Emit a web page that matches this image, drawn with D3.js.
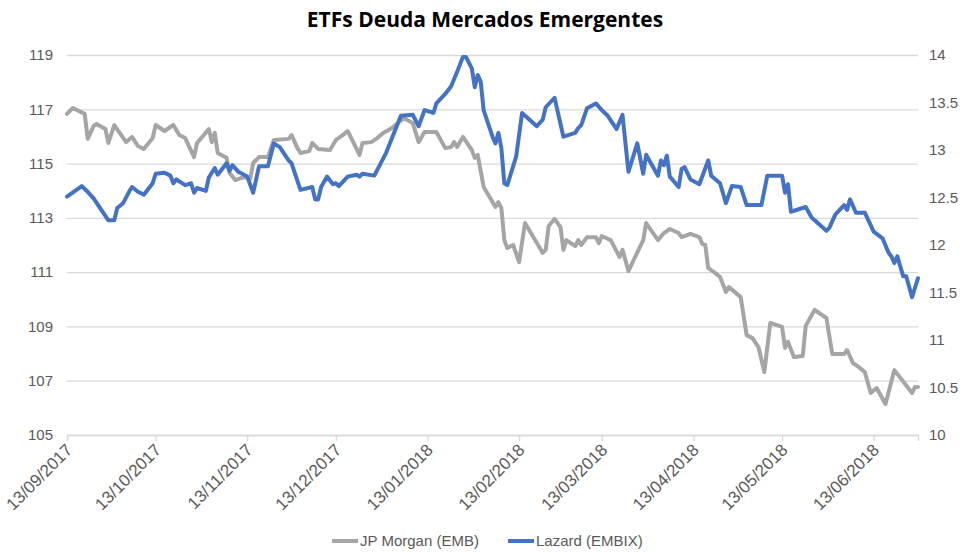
<!DOCTYPE html>
<html>
<head>
<meta charset="utf-8">
<script src="https://cdn.jsdelivr.net/npm/d3@7"></script>
<style>
  html, body { margin: 0; padding: 0; background: #fff; }
  svg { display: block; font-family: "Liberation Sans Narrow", "Liberation Sans", Arial, sans-serif; }
</style>
</head>
<body>
<div id="chart"></div>
<script>
// JP Morgan (EMB) — left axis
const embDates = [
  "13/09/2017","15/09/2017","19/09/2017","20/09/2017","22/09/2017","23/09/2017","26/09/2017","27/09/2017","29/09/2017",
  "03/10/2017","05/10/2017","07/10/2017","09/10/2017","12/10/2017","13/10/2017","16/10/2017","19/10/2017","21/10/2017","23/10/2017","26/10/2017","27/10/2017","31/10/2017",
  "01/11/2017","02/11/2017","03/11/2017","06/11/2017","07/11/2017","09/11/2017","12/11/2017","14/11/2017","15/11/2017","17/11/2017","20/11/2017","22/11/2017","27/11/2017","28/11/2017","30/11/2017",
  "01/12/2017","04/12/2017","05/12/2017","07/12/2017","11/12/2017","13/12/2017","15/12/2017","17/12/2017","19/12/2017","21/12/2017","22/12/2017","25/12/2017","27/12/2017","29/12/2017",
  "01/01/2018","05/01/2018","08/01/2018","10/01/2018","12/01/2018","16/01/2018","19/01/2018","21/01/2018","22/01/2018","23/01/2018","25/01/2018","28/01/2018","29/01/2018","30/01/2018",
  "01/02/2018","04/02/2018","05/02/2018","06/02/2018","07/02/2018","08/02/2018","09/02/2018","11/02/2018","13/02/2018","15/02/2018","19/02/2018","21/02/2018","22/02/2018","23/02/2018","25/02/2018","27/02/2018","28/02/2018",
  "01/03/2018","04/03/2018","05/03/2018","06/03/2018","08/03/2018","11/03/2018","12/03/2018","13/03/2018","16/03/2018","19/03/2018","20/03/2018","22/03/2018","27/03/2018","28/03/2018",
  "01/04/2018","03/04/2018","05/04/2018","08/04/2018","09/04/2018","12/04/2018","15/04/2018","16/04/2018","17/04/2018","18/04/2018","20/04/2018","22/04/2018","24/04/2018","25/04/2018","29/04/2018",
  "01/05/2018","03/05/2018","05/05/2018","07/05/2018","09/05/2018","13/05/2018","14/05/2018","15/05/2018","17/05/2018","20/05/2018","21/05/2018","24/05/2018","28/05/2018","30/05/2018",
  "03/06/2018","04/06/2018","06/06/2018","08/06/2018","10/06/2018","12/06/2018","14/06/2018","17/06/2018","20/06/2018","26/06/2018","27/06/2018","28/06/2018"
];
const embValues = [
  116.83,117.05,116.83,115.91,116.38,116.46,116.27,115.76,116.42,
  115.79,115.98,115.65,115.54,115.94,116.42,116.2,116.42,116.05,115.94,115.24,115.76,116.27,
  115.79,116.13,115.39,115.21,114.65,114.39,114.51,114.43,115.02,115.24,115.24,115.87,115.91,116.05,115.57,
  115.39,115.46,115.76,115.54,115.5,115.87,116.02,116.2,115.76,115.32,115.76,115.79,115.94,116.13,
  116.31,116.68,116.49,115.79,116.16,116.16,115.57,115.61,115.79,115.61,115.98,115.5,115.21,115.32,
  114.14,113.58,113.4,113.58,113.36,112.18,111.89,112.0,111.37,112.81,112.07,111.71,111.82,112.7,112.96,112.66,111.82,
  112.18,111.96,112.18,112.0,112.29,112.29,112.07,112.33,112.18,111.56,111.82,111.04,112.18,112.81,
  112.18,112.44,112.59,112.44,112.29,112.41,112.29,112.04,112.0,111.15,111.0,110.82,110.27,110.45,110.08,
  108.68,108.57,108.24,107.32,109.13,108.98,108.21,108.43,107.87,107.91,109.02,109.61,109.31,107.98,
  107.98,108.13,107.65,107.5,107.32,106.55,106.73,106.14,107.39,106.55,106.77,106.77
];

// Lazard (EMBIX) — right axis
const embixDates = [
  "13/09/2017","18/09/2017","20/09/2017","22/09/2017","27/09/2017","29/09/2017","30/09/2017",
  "02/10/2017","04/10/2017","05/10/2017","07/10/2017","09/10/2017","12/10/2017","13/10/2017","16/10/2017","18/10/2017","19/10/2017","20/10/2017","23/10/2017","25/10/2017","26/10/2017","27/10/2017","30/10/2017","31/10/2017",
  "02/11/2017","03/11/2017","06/11/2017","07/11/2017","08/11/2017","10/11/2017","13/11/2017","15/11/2017","17/11/2017","20/11/2017","22/11/2017","24/11/2017","27/11/2017","28/11/2017",
  "01/12/2017","05/12/2017","06/12/2017","07/12/2017","08/12/2017","10/12/2017","12/12/2017","13/12/2017","14/12/2017","17/12/2017","20/12/2017","21/12/2017","22/12/2017","26/12/2017","30/12/2017",
  "04/01/2018","08/01/2018","10/01/2018","12/01/2018","15/01/2018","16/01/2018","19/01/2018","21/01/2018","23/01/2018","25/01/2018","26/01/2018","28/01/2018","29/01/2018","30/01/2018","31/01/2018",
  "01/02/2018","04/02/2018","05/02/2018","06/02/2018","07/02/2018","08/02/2018","09/02/2018","12/02/2018","14/02/2018","19/02/2018","21/02/2018","22/02/2018","25/02/2018","28/02/2018",
  "04/03/2018","05/03/2018","06/03/2018","08/03/2018","11/03/2018","13/03/2018","14/03/2018","15/03/2018","18/03/2018","20/03/2018","22/03/2018","25/03/2018","27/03/2018","28/03/2018",
  "01/04/2018","02/04/2018","03/04/2018","04/04/2018","05/04/2018","08/04/2018","09/04/2018","10/04/2018","12/04/2018","15/04/2018","18/04/2018","19/04/2018","22/04/2018","24/04/2018","26/04/2018","29/04/2018",
  "01/05/2018","06/05/2018","08/05/2018","13/05/2018","14/05/2018","15/05/2018","16/05/2018","21/05/2018","23/05/2018","28/05/2018","29/05/2018","31/05/2018",
  "03/06/2018","04/06/2018","05/06/2018","07/06/2018","10/06/2018","13/06/2018","16/06/2018","18/06/2018","19/06/2018","20/06/2018","21/06/2018","23/06/2018","24/06/2018","26/06/2018","28/06/2018"
];
const embixValues = [
  12.51,12.62,12.56,12.49,12.26,12.26,12.39,
  12.44,12.56,12.61,12.56,12.53,12.65,12.75,12.76,12.73,12.65,12.69,12.63,12.65,12.55,12.6,12.57,12.71,
  12.81,12.74,12.86,12.78,12.84,12.77,12.72,12.55,12.83,12.83,13.07,13.03,12.89,12.86,
  12.58,12.61,12.48,12.48,12.61,12.72,12.64,12.65,12.62,12.72,12.74,12.72,12.75,12.73,12.97,
  13.36,13.37,13.25,13.42,13.39,13.49,13.59,13.67,13.82,13.98,13.98,13.86,13.66,13.79,13.72,
  13.42,13.14,13.07,13.18,13.02,12.65,12.63,12.93,13.39,13.25,13.32,13.45,13.55,13.14,
  13.18,13.23,13.26,13.44,13.49,13.42,13.39,13.36,13.22,13.37,12.77,13.07,12.75,12.95,
  12.73,12.89,12.84,12.94,12.72,12.61,12.8,12.82,12.69,12.64,12.89,12.73,12.65,12.44,12.62,12.61,
  12.42,12.42,12.73,12.73,12.55,12.64,12.35,12.4,12.29,12.15,12.18,12.32,
  12.42,12.37,12.48,12.34,12.34,12.14,12.07,11.92,11.88,11.81,11.88,11.67,11.67,11.45,11.65
];

const leftTicks  = [105, 107, 109, 111, 113, 115, 117, 119];
const rightTicks = [10, 10.5, 11, 11.5, 12, 12.5, 13, 13.5, 14];
const xTickLabels = ["13/09/2017","13/10/2017","13/11/2017","13/12/2017","13/01/2018",
                     "13/02/2018","13/03/2018","13/04/2018","13/05/2018","13/06/2018"];
const xStart = "13/09/2017", xEnd = "28/06/2018";

const W = 967, H = 553;
const PLOT = { left: 67, right: 918, top: 55, bottom: 435 };
const GRAY = '#A5A5A5', BLUE = '#4472C4', GRID = '#D9D9D9', TXT = '#595959';

const parse = d3.timeParse('%d/%m/%Y');

const svg = d3.select('#chart').append('svg')
  .attr('width', W).attr('height', H);

const x  = d3.scaleTime().domain([parse(xStart), parse(xEnd)]).range([PLOT.left, PLOT.right]);
const yL = d3.scaleLinear().domain([105, 119]).range([PLOT.bottom, PLOT.top]);
const yR = d3.scaleLinear().domain([10, 14]).range([PLOT.bottom, PLOT.top]);

// gridlines
svg.append('g')
  .attr('transform', `translate(${PLOT.left},0)`)
  .call(d3.axisLeft(yL).tickValues(leftTicks).tickSize(-(PLOT.right - PLOT.left)).tickFormat(''))
  .call(g => g.select('.domain').remove())
  .call(g => g.selectAll('line').attr('stroke', GRID).attr('stroke-width', 1.3));

// left axis labels
svg.append('g')
  .attr('transform', `translate(${PLOT.left},0)`)
  .call(d3.axisLeft(yL).tickValues(leftTicks).tickSize(0).tickPadding(14).tickFormat(d3.format('d')))
  .call(g => g.select('.domain').remove())
  .call(g => g.selectAll('text').attr('fill', TXT).style('font-size', '15px'));

// right axis labels
svg.append('g')
  .attr('transform', `translate(${PLOT.right},0)`)
  .call(d3.axisRight(yR).tickValues(rightTicks).tickSize(0).tickPadding(11).tickFormat(d => String(d)))
  .call(g => g.select('.domain').remove())
  .call(g => g.selectAll('text').attr('fill', TXT).style('font-size', '15px'));

// x axis
const xAxis = svg.append('g')
  .attr('transform', `translate(0,${PLOT.bottom})`)
  .call(d3.axisBottom(x).tickValues(xTickLabels.map(parse)).tickSize(6).tickFormat(d3.timeFormat('%d/%m/%Y')));
xAxis.select('.domain').attr('stroke', GRID).attr('stroke-width', 1.3);
xAxis.selectAll('.tick line').attr('stroke', GRID).attr('stroke-width', 1.3);
xAxis.selectAll('.tick text')
  .attr('fill', TXT).style('font-size', '17px')
  .attr('text-anchor', 'end')
  .attr('y', 0).attr('dy', 0)
  .attr('transform', 'translate(6,16) rotate(-45)');

// lines
const embData   = embDates.map((d, i) => ({ date: parse(d), value: embValues[i] }));
const embixData = embixDates.map((d, i) => ({ date: parse(d), value: embixValues[i] }));

svg.append('path')
  .datum(embData)
  .attr('fill', 'none')
  .attr('stroke', GRAY)
  .attr('stroke-width', 4)
  .attr('stroke-linejoin', 'round')
  .attr('stroke-linecap', 'round')
  .attr('d', d3.line().x(d => x(d.date)).y(d => yL(d.value)));

svg.append('path')
  .datum(embixData)
  .attr('fill', 'none')
  .attr('stroke', BLUE)
  .attr('stroke-width', 4)
  .attr('stroke-linejoin', 'round')
  .attr('stroke-linecap', 'round')
  .attr('d', d3.line().x(d => x(d.date)).y(d => yR(d.value)));

// title
svg.append('text')
  .attr('x', 485).attr('y', 27)
  .attr('text-anchor', 'middle')
  .style('font-family', '"Open Sans", "Liberation Sans", Arial, sans-serif')
  .style('font-size', '21px')
  .style('font-weight', 'bold')
  .attr('fill', '#000')
  .text('ETFs Deuda Mercados Emergentes');

// legend
const legendItems = [
  { label: 'JP Morgan (EMB)', color: GRAY, x: 332 },
  { label: 'Lazard (EMBIX)',  color: BLUE, x: 508 }
];
const lg = svg.append('g').attr('transform', 'translate(0,541)');
legendItems.forEach(it => {
  lg.append('line')
    .attr('x1', it.x).attr('x2', it.x + 26)
    .attr('y1', 0).attr('y2', 0)
    .attr('stroke', it.color).attr('stroke-width', 4);
  lg.append('text')
    .attr('x', it.x + 28).attr('y', 0).attr('dy', '0.35em')
    .attr('fill', TXT).style('font-size', '15px')
    .text(it.label);
});
</script>
</body>
</html>
